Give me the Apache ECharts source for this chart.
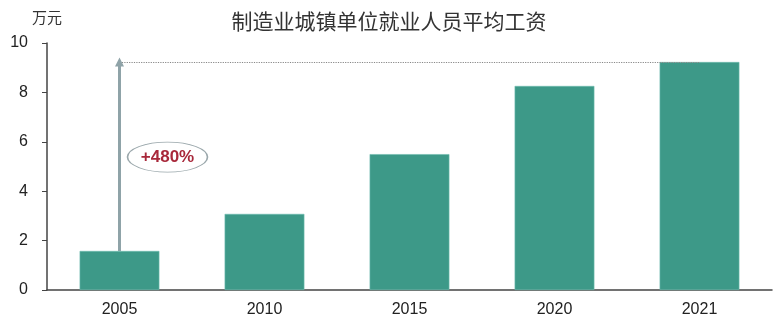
<!DOCTYPE html>
<html><head><meta charset="utf-8">
<script src="https://cdn.jsdelivr.net/npm/echarts@6/dist/echarts.min.js"></script>
<style>html,body{margin:0;padding:0;background:#fff}#c{width:778px;height:329px}</style>
</head><body><div id="c"></div>
<script>
const categories = ['2005', '2010', '2015', '2020', '2021'];
const wages = [1.58, 3.08, 5.50, 8.26, 9.23];
const yTicks = [0, 2, 4, 6, 8, 10];
const growthLabel = '+480%';
const titleText = '制造业城镇单位就业人员平均工资';
const unitText = '万元';

const chart = echarts.init(document.getElementById('c'));
const first = wages[0], last = wages[wages.length - 1];
chart.setOption({
  animation: false,
  title: {
    text: titleText, left: 'center', top: 6,
    textStyle: { fontFamily: 'Noto Sans CJK SC', fontSize: 21, fontWeight: 'normal', color: '#333' }
  },
  graphic: [{ type: 'text', left: 32, top: 10, style: { text: unitText, fontFamily: 'Noto Sans CJK SC', fontSize: 15, fill: '#333' } }],
  grid: { left: 47, right: 6, top: 43, bottom: 39 },
  xAxis: {
    type: 'category', data: categories,
    axisLine: { lineStyle: { color: '#444', width: 1.5 } },
    axisTick: { show: false },
    axisLabel: { color: '#222', fontFamily: 'Liberation Sans', fontSize: 16, margin: 12 }
  },
  yAxis: {
    type: 'value', min: yTicks[0], max: yTicks[yTicks.length - 1], interval: 2,
    splitLine: { show: false },
    axisLine: { show: true, lineStyle: { color: '#444', width: 1.5 } },
    axisTick: { show: true, length: 5, lineStyle: { color: '#444' } },
    axisLabel: { color: '#222', fontFamily: 'Liberation Sans', fontSize: 16, margin: 19 }
  },
  series: [
    {
      type: 'bar', data: wages, barWidth: '55%', z: 3,
      itemStyle: { color: '#3d9988', borderColor: '#6dbcae', borderWidth: 0.6 }
    },
    {
      type: 'line', data: [], z: 1,
      markLine: {
        silent: true, animation: false, label: { show: false },
        data: [
          [{ coord: [0, last], symbol: 'none', lineStyle: { type: 'dotted', color: '#888', width: 1.2 } },
           { coord: [4, last], symbol: 'none' }],
          [{ coord: [0, first], symbol: 'none', lineStyle: { type: 'solid', color: '#8fa3a8', width: 3 } },
           { coord: [0, last], symbol: 'triangle', symbolSize: [9, 9] }]
        ]
      }
    },
    {
      type: 'line', data: [], z: 4,
      markPoint: {
        silent: true, animation: false,
        data: [{ coord: [0, 5.38], symbol: 'circle', symbolSize: [80, 30], symbolOffset: [48, 0],
          itemStyle: { color: '#fff', borderColor: '#9aa7ab', borderWidth: 1 },
          label: { show: true, formatter: growthLabel, color: '#a8283a', fontWeight: 'bold', fontSize: 17, fontFamily: 'Liberation Sans' } }]
      }
    }
  ]
});
</script></body></html>
